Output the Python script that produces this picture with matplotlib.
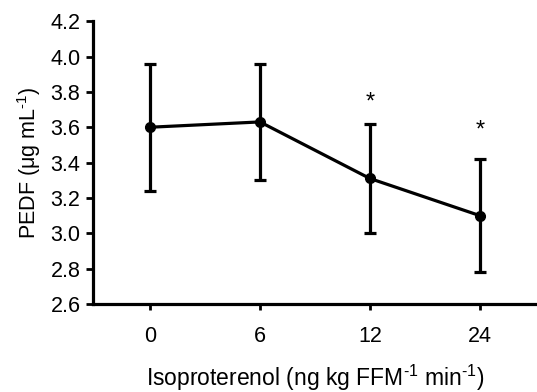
import matplotlib
matplotlib.use("Agg")
import matplotlib.pyplot as plt

# data
doses = ["0", "6", "12", "24"]
pedf = [3.60, 3.63, 3.31, 3.10]
err_upper = [3.96, 3.96, 3.62, 3.42]
err_lower = [3.24, 3.30, 3.00, 2.78]
star_idx = [2, 3]
star_y = [3.74, 3.58]

plt.rcParams["font.family"] = ["Liberation Sans", "DejaVu Sans"]
plt.rcParams["mathtext.fontset"] = "custom"
plt.rcParams["mathtext.rm"] = "Liberation Sans"
plt.rcParams["mathtext.it"] = "Liberation Sans"

fig = plt.figure(figsize=(5.37, 3.92), dpi=100)
ax = fig.add_axes([0.173, 0.2245, 0.827, 0.7215])

x = list(range(len(doses)))
yerr = [[p - lo for p, lo in zip(pedf, err_lower)],
        [hi - p for p, hi in zip(pedf, err_upper)]]
ax.errorbar(x, pedf, yerr=yerr, color="black", lw=2.3, elinewidth=2.3,
            capsize=4, capthick=2.3, marker="o", markersize=7)

for i, y in zip(star_idx, star_y):
    ax.text(x[i], y, "*", ha="center", va="center", fontsize=17)

ax.set_xlim(-0.52, 3.52)
ax.set_ylim(2.6, 4.2)
ax.set_xticks(x)
ax.set_xticklabels(doses)
ax.set_yticks([2.6 + 0.2 * i for i in range(9)])
ax.set_yticklabels(["%.1f" % (2.6 + 0.2 * i) for i in range(9)])
ax.tick_params(axis="both", labelsize=15.5, width=2, direction="out")
ax.tick_params(axis="y", length=5, pad=4)
ax.tick_params(axis="x", length=4, pad=12)

for s in ["top", "right"]:
    ax.spines[s].set_visible(False)
for s in ["left", "bottom"]:
    ax.spines[s].set_linewidth(2.3)

ax.set_ylabel("PEDF (μg mL$^{\\text{-1}}$)", fontsize=15.5, labelpad=5)
ax.set_xlabel("Isoproterenol (ng kg FFM$^{\\text{-1}}$ min$^{\\text{-1}}$)",
              fontsize=16.5, labelpad=11)

fig.savefig("out.png", dpi=100)
